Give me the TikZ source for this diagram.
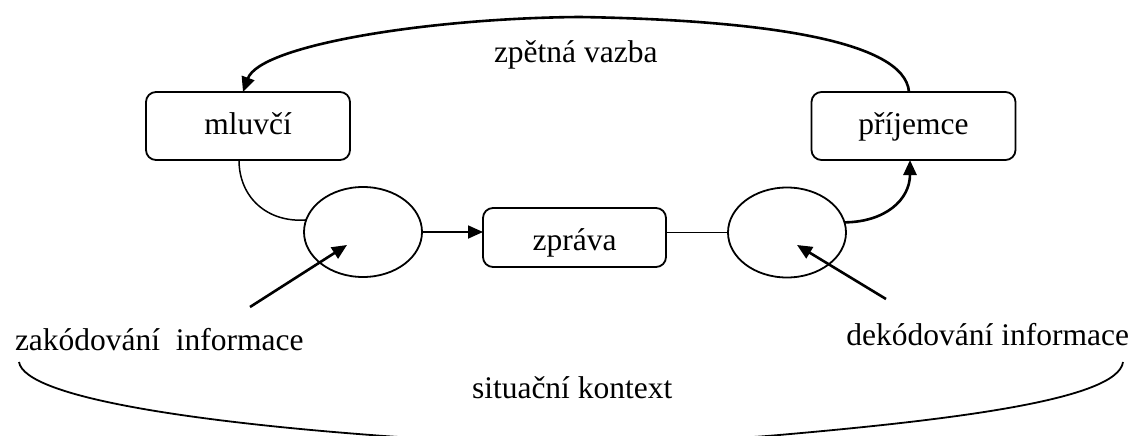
\documentclass[tikz,border=0pt]{standalone}
\usepackage{fontspec}
\setmainfont{Liberation Serif}
\usetikzlibrary{arrows.meta,shapes.geometric}
\begin{document}
\begin{tikzpicture}[x=1pt,y=-1pt,
  every node/.style={font=\fontsize{31.5}{36}\selectfont, inner sep=0pt, outer sep=0pt},
  box/.style={draw, line width=1.8pt, rounded corners=10pt, minimum width=204pt, minimum height=68pt, text height=16pt, text depth=0pt},
  oval/.style={draw, ellipse, line width=1.8pt, minimum width=118pt, minimum height=90pt},
  conn/.style={line width=1.5pt},
  heavy/.style={line width=2.6pt},
  tipped/.style={-{Triangle[length=15pt,width=13pt]}},
  label/.style={anchor=base west}
]
\useasboundingbox (0,0) rectangle (1137,436);

% nodes
\node[box] (mluvci) at (248,126) {mluvčí};
\node[box] (prijemce) at (913.5,126) {příjemce};
\node[box, minimum width=183pt, minimum height=59pt, text height=25pt] (zprava) at (574.5,237.5) {zpráva};
\node[oval] (encE) at (363,232) {};
\node[oval] (decE) at (787,232.5) {};

\node[label] (zpetna) at (494,63) {zpětná vazba};
\node[label] (zakod) at (15,350) {zakódování\ \ informace};
\node[anchor=base east] (dekod) at (1129,345) {dekódování informace};
\node[label] (situace) at (472,398) {situační kontext};

\coordinate (encStart) at (250,307);
\coordinate (encTip) at (347,245);
\coordinate (decStart) at (886,299);
\coordinate (decTip) at (797,245);
\coordinate (ctxL) at (19,362);
\coordinate (ctxR) at (1123,362);

% feedback arrow
\draw[heavy, tipped] ([xshift=-4.5pt]prijemce.north) .. controls (905,40) and (760,20) .. (580,17)
  .. controls (430,18) and (260,45) .. ([xshift=-5pt]mluvci.north);

% speaker to encoding
\draw[conn] ([xshift=-9pt]mluvci.south) .. controls (239,198) and (268,223) .. (encE.168);

% encoding to message
\draw[line width=1.8pt, tipped] (encE.east) -- (encE.east -| zprava.west);

% message to decoding
\draw[conn] (decE.west -| zprava.east) -- (decE.west);

% decoding to receiver
\draw[heavy, tipped] (decE.10) .. controls (885,222) and (910,200) .. ([xshift=-3.5pt]prijemce.south);

% label arrows
\draw[heavy, tipped] (encStart) -- (encTip);
\draw[heavy, tipped] (decStart) -- (decTip);

% situational context
\begin{scope}
\clip (0,0) rectangle (1137,436);
\draw[line width=1.8pt] (ctxL) .. controls (25,398) and (200,422) .. (371,435)
  .. controls (480,444) and (680,444) .. (779,435)
  .. controls (950,420) and (1118,400) .. (ctxR);
\end{scope}
\end{tikzpicture}
\end{document}
